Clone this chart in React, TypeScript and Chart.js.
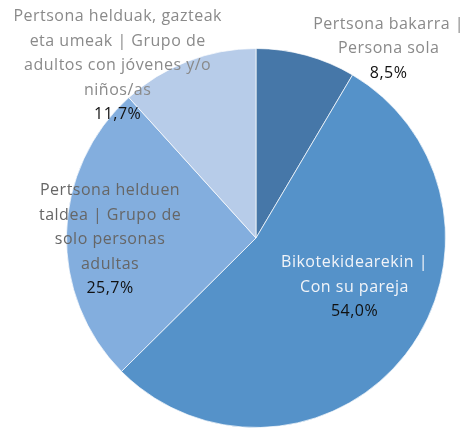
import React, { useEffect, useRef } from "react";
import { Chart, registerables } from "chart.js";

Chart.register(...registerables);

const categoryLines: string[][] = [
  ["Pertsona bakarra |", "Persona sola"],
  ["Bikotekidearekin |", "Con su pareja"],
  ["Pertsona helduen", "taldea | Grupo de", "solo personas", "adultas"],
  ["Pertsona helduak, gazteak", "eta umeak | Grupo de", "adultos con jóvenes y/o", "niños/as"],
];
const categories: string[] = categoryLines.map((l) => l.join(" "));
const values: number[] = [8.5, 54.0, 25.7, 11.7];
const colors: string[] = ["#4677a8", "#5592c9", "#83aede", "#b7cce9"];
const labelColors: string[] = ["#8a8a8a", "#f2f4f8", "#666666", "#8a8a8a"];
// label block centre, in units of the pie radius, relative to the pie centre
const labelOffsets: [number, number][] = [
  [0.70, -1.0],
  [0.52, 0.26],
  [-0.77, 0.01],
  [-0.73, -0.91],
];

const FONT = "16px 'Open Sans', sans-serif";
const LINE_H = 24.5;

const labelPlugin = {
  id: "pieLabels",
  afterDatasetsDraw(chart: any) {
    const meta = chart.getDatasetMeta(0);
    const ctx = chart.ctx;
    ctx.save();
    ctx.font = FONT;
    try {
      (ctx as any).letterSpacing = "0.5px";
    } catch (e) {}
    ctx.textAlign = "center";
    ctx.textBaseline = "middle";
    meta.data.forEach((arc: any, i: number) => {
      const { x, y, outerRadius } = arc.getProps(["x", "y", "outerRadius"], true);
      const cx = x + labelOffsets[i][0] * outerRadius;
      const cy = y + labelOffsets[i][1] * outerRadius;
      const lines = categoryLines[i];
      const pct = values[i].toFixed(1).replace(".", ",") + "%";
      const n = lines.length + 1;
      const top = cy - ((n - 1) * LINE_H) / 2;
      lines.forEach((t, k) => {
        ctx.fillStyle = labelColors[i];
        ctx.fillText(t, cx, top + k * LINE_H);
      });
      ctx.fillStyle = "#111111";
      ctx.fillText(pct, cx, top + lines.length * LINE_H);
    });
    ctx.restore();
  },
};

export default function App() {
  const ref = useRef<HTMLCanvasElement | null>(null);
  useEffect(() => {
    document.body.style.margin = "0";
    const chart = new Chart(ref.current as HTMLCanvasElement, {
      type: "pie",
      data: {
        labels: categories,
        datasets: [
          {
            data: values,
            backgroundColor: colors,
            borderColor: "rgba(255,255,255,0.7)",
            borderWidth: 1,
          },
        ],
      },
      options: {
        animation: false,
        responsive: false,
        layout: { padding: { left: 66, right: 21, top: 48, bottom: 2 } },
        plugins: {
          legend: { display: false },
          tooltip: { enabled: false },
        },
      },
      plugins: [labelPlugin],
    });
    return () => chart.destroy();
  }, []);
  return (
    <div style={{ width: 467, height: 430 }}>
      <canvas ref={ref} width={467} height={430} style={{ width: 467, height: 430 }} />
    </div>
  );
}
